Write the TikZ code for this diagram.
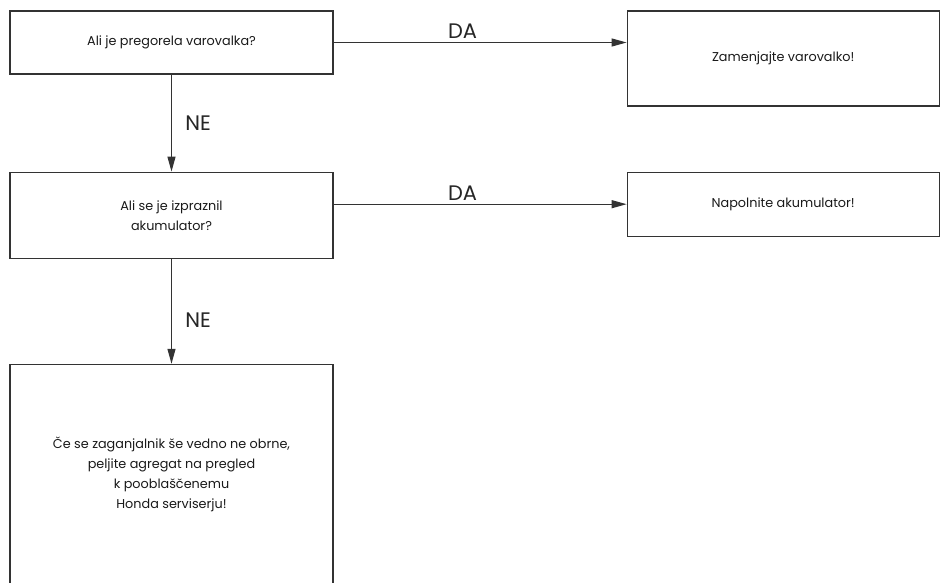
\documentclass[tikz,border=0pt]{standalone}
\usepackage{fontspec}
\setmainfont{Poppins}
\usepackage{tikz}
\usetikzlibrary{arrows.meta, positioning}
\tikzstyle{question} = [rectangle, minimum width=323pt, draw=black!80, line width=1.2pt,
                        text centered, align=center, text=black!90, font=\fontsize{12.8}{20}\selectfont]
\tikzstyle{answer}   = [rectangle, minimum width=312pt, draw=black!80, line width=1.2pt,
                        text centered, align=center, text=black!90, font=\fontsize{12.8}{20}\selectfont]
\tikzstyle{branch}   = [text=black!85, font=\fontsize{21}{22}\selectfont]
\tikzstyle{arrow}    = [-{Triangle[length=15pt, width=8pt]}, line width=1.2pt, draw=black!80]

\begin{document}
\begin{tikzpicture}[x=1pt, y=1pt]
    \useasboundingbox (0,0) rectangle (940,-583);

    \node (fuse) [question, minimum height=63pt] at (171.5,-42.5) {Ali je pregorela varovalka?};
    \node (fix) [answer, minimum height=95pt, below right=0pt and 293pt of fuse.north east] {Zamenjajte varovalko!};

    \node (battery) [question, minimum height=86pt, below=97pt of fuse] {Ali se je izpraznil\\akumulator?};
    \node (charge) [answer, minimum height=64pt, below right=0pt and 293pt of battery.north east] {Napolnite akumulator!};

    \node (service) [question, minimum height=240pt, text depth=24pt, below=105pt of battery]
        {Če se zaganjalnik še vedno ne obrne,\\peljite agregat na pregled\\k pooblaščenemu\\Honda serviserju!};

    \draw[arrow] (fuse.east) -- node[branch, pos=0.44, above=0pt] {DA} (fuse.east -| fix.west);
    \draw[arrow] (fuse) -- node[branch, midway, right=10pt] {NE} (battery);
    \draw[arrow] (charge.west -| battery.east) -- node[branch, pos=0.44, above=0pt] {DA} (charge.west);
    \draw[arrow] (battery) -- node[branch, pos=0.58, right=10pt] {NE} (service);
\end{tikzpicture}
\end{document}
